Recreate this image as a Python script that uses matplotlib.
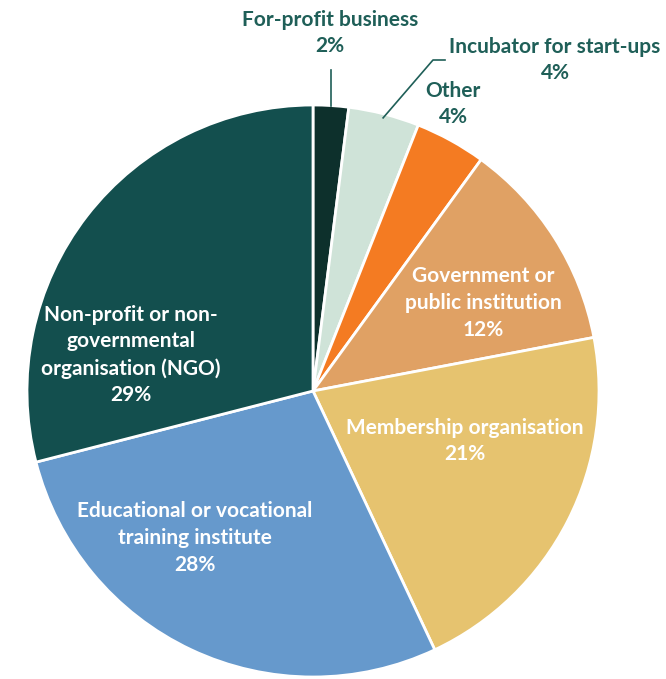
import numpy as np
import matplotlib.pyplot as plt

labels = ["For-profit business", "Incubator for start-ups", "Other",
          "Government or\npublic institution", "Membership organisation",
          "Educational or vocational\ntraining institute",
          "Non-profit or non-\ngovernmental\norganisation (NGO)"]
shares = [2, 4, 4, 12, 21, 28, 29]
colors = ["#0d302c", "#cfe3d8", "#f47b22", "#e0a164", "#e6c36f", "#6699cc", "#134f4e"]

W, H = 666, 679
cx, cy, r = 313, H - 391, 286

plt.rcParams["font.family"] = ["Lato", "DejaVu Sans"]

fig = plt.figure(figsize=(W / 100, H / 100), dpi=100)
ax = fig.add_axes([0, 0, 1, 1])

wedges, _ = ax.pie(shares, colors=colors, startangle=90, counterclock=False,
                   radius=r, center=(cx, cy),
                   wedgeprops=dict(edgecolor="white", linewidth=2))

# pie() resets the limits, so set them afterwards
ax.set_xlim(0, W)
ax.set_ylim(0, H)
ax.set_aspect("equal")
ax.axis("off")

dark = "#1f5f58"
fs = 15

# label positions in image pixels (x, y from top)
inside_pos = {3: (483, 303), 4: (465, 441), 5: (195, 538), 6: (131, 355)}
outside_pos = {0: (330, 33), 1: (555, 60), 2: (453, 104)}

for i, (lab, val) in enumerate(zip(labels, shares)):
    txt = f"{lab}\n{val}%"
    if i in inside_pos:
        x, y = inside_pos[i]
        col = "white"
    else:
        x, y = outside_pos[i]
        col = dark
    ax.text(x, H - y, txt, ha="center", va="center", color=col,
            fontsize=fs, fontweight="bold", linespacing=1.42)

# leader lines
w = wedges[0]
mid = np.deg2rad((w.theta1 + w.theta2) / 2)
px, py = cx + r * np.cos(mid), cy + r * np.sin(mid)
ax.plot([px, px], [py, H - 70], color=dark, lw=1.2)

w = wedges[1]
mid = np.deg2rad((w.theta1 + w.theta2) / 2)
px, py = cx + (r - 4) * np.cos(mid), cy + (r - 4) * np.sin(mid)
ax.plot([px, 433, 445], [py, H - 60, H - 60], color=dark, lw=1.2)

fig.savefig("out.png", dpi=100, facecolor="white")
